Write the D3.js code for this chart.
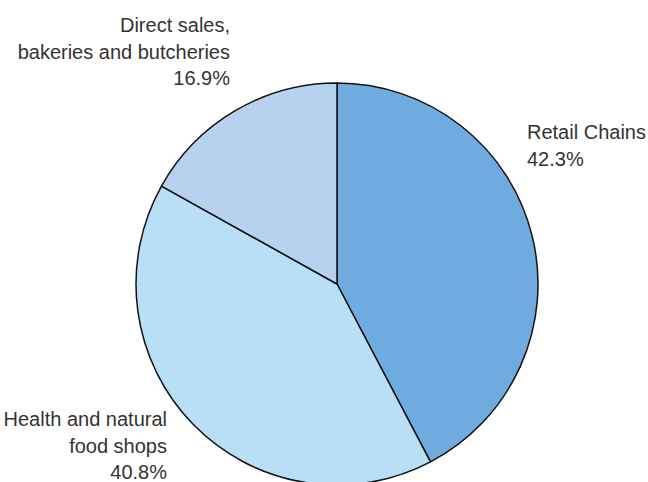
<!DOCTYPE html>
<html>
<head>
<meta charset="utf-8">
<script src="https://cdn.jsdelivr.net/npm/d3@7/dist/d3.min.js"></script>
<style>
  html, body { margin: 0; padding: 0; background: #fff; }
  svg { display: block; }
  text { font-family: "Liberation Sans", Arial, Helvetica, sans-serif; font-size: 20px; fill: #333; }
</style>
</head>
<body>
<script>
// Sales channels and their shares (%)
const categories = ["Retail Chains", "Health and natural food shops", "Direct sales, bakeries and butcheries"];
const shares = [42.3, 40.8, 16.9];
const labelLines = [
  ["Retail Chains"],
  ["Health and natural", "food shops"],
  ["Direct sales,", "bakeries and butcheries"]
];
const colors = ["#6fabdf", "#b8dff6", "#b6d2ef"];

const width = 648, height = 482;
const cx = 337, cy = 284, radius = 201;

const svg = d3.select("body").append("svg")
  .attr("width", width).attr("height", height);

const data = categories.map((c, i) => ({ name: c, value: shares[i], lines: labelLines[i], color: colors[i] }));

const pie = d3.pie().value(d => d.value).sort(null);
const arc = d3.arc().innerRadius(0).outerRadius(radius);
const arcs = pie(data);

const g = svg.append("g").attr("transform", `translate(${cx},${cy})`);

g.selectAll("path.slice")
  .data(arcs)
  .join("path")
  .attr("class", "slice")
  .attr("d", arc)
  .attr("fill", d => d.data.color)
  .attr("stroke", "#111")
  .attr("stroke-width", 1.5)
  .attr("stroke-linejoin", "round");

// Label placement: anchor side and first-baseline offset relative to the pie centre
const labelLayout = [
  { anchor: "start", dx: 190, dy: -145 },
  { anchor: "end",   dx: -170, dy: 142 },
  { anchor: "end",   dx: -107, dy: -252 }
];
const lineHeight = 26.5;

const labels = svg.append("g").attr("transform", `translate(${cx},${cy})`);
arcs.forEach((a, i) => {
  const L = labelLayout[i];
  const t = labels.append("text")
    .attr("text-anchor", L.anchor)
    .attr("x", L.dx).attr("y", L.dy);
  const lines = a.data.lines.concat([d3.format(".1f")(a.data.value) + "%"]);
  lines.forEach((s, j) => {
    t.append("tspan").attr("x", L.dx).attr("y", L.dy + j * lineHeight).text(s);
  });
});
</script>
</body>
</html>
